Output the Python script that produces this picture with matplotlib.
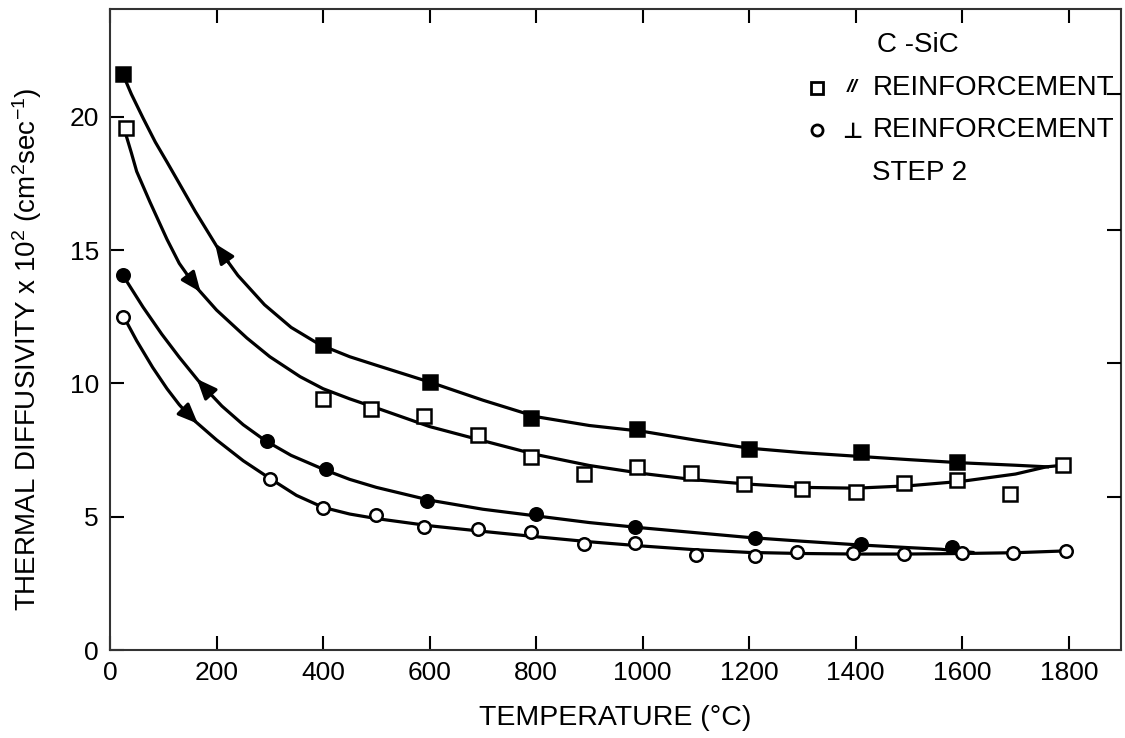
import numpy as np
import matplotlib
matplotlib.use("Agg")
import matplotlib.pyplot as plt

plt.rcParams['font.family'] = ['Liberation Sans', 'DejaVu Sans']
plt.rcParams['mathtext.default'] = 'regular'

# measured points (temperature in C, diffusivity x 1e2 in cm2/s)
sq_fill_x = [25, 400, 600, 790, 990, 1200, 1410, 1590]
sq_fill_y = [21.6, 11.45, 10.05, 8.7, 8.29, 7.54, 7.42, 7.05]

sq_open_x = [30, 400, 490, 590, 690, 790, 890, 990, 1090, 1190, 1300, 1400, 1490, 1590, 1690, 1790]
sq_open_y = [19.57, 9.41, 9.04, 8.77, 8.06, 7.24, 6.6, 6.86, 6.64, 6.22, 6.04, 5.92, 6.26, 6.37, 5.85, 6.94]

ci_fill_x = [25, 295, 405, 595, 800, 985, 1210, 1410, 1580]
ci_fill_y = [14.06, 7.84, 6.79, 5.59, 5.1, 4.61, 4.2, 3.97, 3.87]

ci_open_x = [25, 300, 400, 500, 590, 690, 790, 890, 985, 1100, 1210, 1290, 1395, 1490, 1600, 1695, 1795]
ci_open_y = [12.49, 6.41, 5.32, 5.06, 4.61, 4.54, 4.42, 3.97, 4.0, 3.56, 3.52, 3.66, 3.65, 3.59, 3.63, 3.63, 3.72]

# hand drawn fit curves
c1_x = [24, 40, 62, 85, 107, 130, 160, 200, 240, 290, 340, 394, 450, 500, 600, 700, 800,
        900, 1000, 1100, 1200, 1300, 1400, 1500, 1600, 1700, 1760]
c1_y = [21.6, 20.85, 19.95, 19.05, 18.3, 17.5, 16.45, 15.15, 14.05, 12.95, 12.1, 11.45, 11.0,
        10.68, 10.05, 9.37, 8.75, 8.42, 8.2, 7.87, 7.57, 7.4, 7.27, 7.14, 7.02, 6.93, 6.87]

c2_x = [28, 40, 50, 75, 107, 130, 160, 200, 257, 300, 357, 400, 450, 500, 600, 700, 800,
        900, 1000, 1100, 1200, 1300, 1400, 1500, 1600, 1700, 1758, 1794]
c2_y = [19.45, 18.65, 17.95, 16.8, 15.4, 14.5, 13.65, 12.75, 11.7, 11.0, 10.25, 9.8, 9.42,
        9.08, 8.38, 7.85, 7.33, 6.92, 6.62, 6.38, 6.22, 6.1, 6.07, 6.16, 6.33, 6.6, 6.87, 6.94]

c3_x = [24, 62, 97, 130, 169, 210, 250, 291, 340, 404, 450, 500, 600, 700, 800, 900, 1000,
        1100, 1200, 1300, 1400, 1500, 1560, 1620]
c3_y = [14.06, 12.86, 11.85, 10.98, 10.02, 9.15, 8.45, 7.86, 7.3, 6.75, 6.4, 6.1, 5.62, 5.28,
        5.03, 4.78, 4.58, 4.4, 4.22, 4.08, 3.95, 3.84, 3.78, 3.66]

c4_x = [26, 50, 80, 107, 130, 154, 200, 250, 299, 350, 400, 450, 500, 600, 700, 800, 900,
        1000, 1100, 1200, 1300, 1400, 1500, 1600, 1700, 1798]
c4_y = [12.49, 11.6, 10.6, 9.8, 9.2, 8.68, 7.88, 7.1, 6.45, 5.8, 5.35, 5.1, 4.93, 4.66, 4.45,
        4.25, 4.06, 3.9, 3.76, 3.66, 3.62, 3.6, 3.6, 3.62, 3.65, 3.72]

x_ticks = [0, 200, 400, 600, 800, 1000, 1200, 1400, 1600, 1800]
y_ticks = [0, 5, 10, 15, 20]

fig = plt.figure(figsize=(11.25, 7.38), dpi=100)
ax = fig.add_axes([0.0978, 0.1192, 0.8986, 0.8686])

lw = 2.3
for cx, cy in [(c1_x, c1_y), (c2_x, c2_y), (c3_x, c3_y), (c4_x, c4_y)]:
    ax.plot(cx, cy, color='black', lw=lw, solid_joinstyle='round', zorder=2)

ax.plot(sq_fill_x, sq_fill_y, 's', ms=10, mfc='black', mec='black', mew=1.8, zorder=3)
ax.plot(sq_open_x, sq_open_y, 's', ms=10, mfc='white', mec='black', mew=1.8, zorder=3)
ax.plot(ci_fill_x, ci_fill_y, 'o', ms=9, mfc='black', mec='black', mew=1.8, zorder=3)
ax.plot(ci_open_x, ci_open_y, 'o', ms=9, mfc='white', mec='black', mew=1.8, zorder=3)

# direction arrows on the curves (tip x, step back along x)
for cx, cy, x0, step in [(c1_x, c1_y, 197, 25), (c2_x, c2_y, 170, -25),
                         (c3_x, c3_y, 163, 25), (c4_x, c4_y, 165, -25)]:
    tip = (x0, np.interp(x0, cx, cy))
    tail = (x0 + step, np.interp(x0 + step, cx, cy))
    ax.annotate('', xy=tip, xytext=tail,
                arrowprops=dict(arrowstyle='-|>,head_length=0.6,head_width=0.25',
                                color='black', lw=lw, mutation_scale=20,
                                shrinkA=0, shrinkB=0))

ax.set_xlim(0, 1898)
ax.set_ylim(0, 24.04)
ax.set_xticks(x_ticks)
ax.set_yticks(y_ticks)
ax.tick_params(axis='both', direction='in', length=10, width=1.5, labelsize=19, pad=8)
ax.tick_params(axis='x', top=True)
for s in ax.spines.values():
    s.set_linewidth(1.5)
    s.set_color('#333333')

# the right-hand ticks sit slightly off the left ones in the original
ax2 = ax.twinx()
ax2.set_ylim(ax.get_ylim())
ax2.set_yticks([5.75, 10.75, 15.75, 20.85])
ax2.set_yticklabels([])
ax2.tick_params(axis='y', direction='in', length=10, width=1.5)
for s in ax2.spines.values():
    s.set_visible(False)

ax.set_xlabel('TEMPERATURE (°C)', fontsize=20.5, labelpad=14)
ax.set_ylabel('THERMAL DIFFUSIVITY x 10$^{2}$ (cm$^{2}$sec$^{-1}$)', fontsize=20)
ax.yaxis.set_label_coords(-0.065, 0.47)

# legend written as plain text like in the original
ax.text(0.759, 0.944, 'C -SiC', transform=ax.transAxes, fontsize=20, va='center')
ax.plot([0.699], [0.877], 's', ms=9, mfc='white', mec='black', mew=2,
        transform=ax.transAxes, clip_on=False)
ax.text(0.734, 0.877, '//', transform=ax.transAxes, fontsize=14, fontweight='bold',
        fontstyle='italic', va='center', ha='center')
ax.text(0.754, 0.877, 'REINFORCEMENT', transform=ax.transAxes, fontsize=20, va='center')
ax.plot([0.699], [0.811], 'o', ms=8, mfc='white', mec='black', mew=2,
        transform=ax.transAxes, clip_on=False)
ax.text(0.734, 0.808, '⊥', transform=ax.transAxes, fontsize=16, fontweight='bold',
        va='center', ha='center', family=['DejaVu Sans'])
ax.text(0.754, 0.811, 'REINFORCEMENT', transform=ax.transAxes, fontsize=20, va='center')
ax.text(0.754, 0.744, 'STEP 2', transform=ax.transAxes, fontsize=20, va='center')

fig.savefig('out.png', dpi=100)
